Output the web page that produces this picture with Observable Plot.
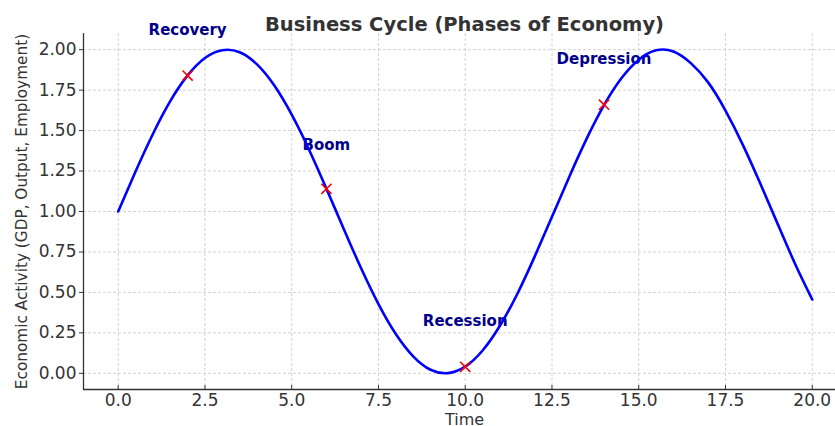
<!DOCTYPE html>
<html>
<head>
<meta charset="utf-8">
<script src="https://cdn.jsdelivr.net/npm/d3@7"></script>
<script src="https://cdn.jsdelivr.net/npm/@observablehq/plot@0.6"></script>
<style>
  html, body { margin: 0; padding: 0; background: #fff; }
  #chart svg { display: block; }
</style>
</head>
<body>
<div id="chart"></div>
<script>
// Curve
const timeValues = [0, 0.5, 1, 1.5, 2, 2.5, 3, 3.5, 4, 4.5, 5, 5.5, 6, 6.5, 7, 7.5, 8, 8.5, 9, 9.5, 10, 10.5, 11, 11.5, 12, 12.5, 13, 13.5, 14, 14.5, 15, 15.5, 16, 16.5, 17, 17.5, 18, 18.5, 19, 19.5, 20];
const activityValues = [1.000, 1.247, 1.479, 1.682, 1.841, 1.949, 1.997, 1.984, 1.909, 1.778, 1.598, 1.382, 1.141, 0.892, 0.649, 0.428, 0.243, 0.105, 0.022, 0.001, 0.041, 0.141, 0.294, 0.490, 0.721, 0.967, 1.215, 1.450, 1.657, 1.823, 1.938, 1.996, 1.989, 1.917, 1.798, 1.624, 1.412, 1.174, 0.925, 0.679, 0.456];

// Phase markers and annotations
const phaseNames = ["Recovery", "Boom", "Recession", "Depression"];
const phaseTimes = [2, 6, 10, 14];
const phaseValues = [1.84, 1.14, 0.04, 1.66];
const labelValues = [2.12, 1.41, 0.32, 1.94];

// Ticks
const xTicks = [0, 2.5, 5, 7.5, 10, 12.5, 15, 17.5, 20];
const yTicks = [0, 0.25, 0.5, 0.75, 1, 1.25, 1.5, 1.75, 2];

const titleText = "Business Cycle (Phases of Economy)";
const xLabel = "Time";
const yLabel = "Economic Activity (GDP, Output, Employment)";

const curve = timeValues.map((t, i) => ({t, v: activityValues[i]}));
const phases = phaseNames.map((name, i) => ({name, t: phaseTimes[i], v: phaseValues[i], lv: labelValues[i]}));

const xDomain = [-1, 20.67];
const yDomain = [-0.1, 2.1];

const font = "DejaVu Sans, sans-serif";
const axisColor = "#333";

const chart = Plot.plot({
  width: 835,
  height: 426,
  marginLeft: 83,
  marginRight: 0,
  marginTop: 33,
  marginBottom: 37,
  style: {fontFamily: font, background: "#fff"},
  x: {domain: xDomain},
  y: {domain: yDomain},
  marks: [
    Plot.gridX(xTicks, {stroke: "#c8c8c8", strokeOpacity: 1, strokeDasharray: "3,2", strokeWidth: 0.8}),
    Plot.gridY(yTicks, {stroke: "#c8c8c8", strokeOpacity: 1, strokeDasharray: "3,2", strokeWidth: 0.8}),
    Plot.axisX(xTicks, {tickSize: -4, tickPadding: 8, tickFormat: d3.format(".1f"), fontSize: 17, fill: axisColor, stroke: axisColor, label: null}),
    Plot.axisY(yTicks, {tickSize: 4, tickPadding: 3, tickFormat: d3.format(".2f"), fontSize: 17, fill: axisColor, stroke: axisColor, label: null}),
    Plot.ruleX([xDomain[0]], {stroke: axisColor, strokeWidth: 1.3}),
    Plot.ruleY([yDomain[0]], {stroke: axisColor, strokeWidth: 1.3}),
    Plot.text(phases, {x: "t", y: "lv", text: "name", fill: "#00008B", fontWeight: "bold", fontSize: 15}),
    Plot.line(curve, {x: "t", y: "v", stroke: "#0000FF", strokeWidth: 2.6, curve: "natural"}),
    Plot.dot(phases, {x: "t", y: "v", symbol: "times", r: 4.7, stroke: "#FF0000", strokeWidth: 1.6}),
    Plot.text([titleText], {frameAnchor: "top", dy: -16, dx: 5, text: d => d, fontWeight: "bold", fontSize: 19.5, fill: axisColor}),
    Plot.text([xLabel], {frameAnchor: "bottom", dy: 35, dx: 5, text: d => d, fontSize: 16, fill: axisColor}),
    Plot.text([yLabel], {frameAnchor: "left", dx: -61, rotate: -90, textAnchor: "middle", text: d => d, fontSize: 15.3, fill: axisColor})
  ]
});

document.getElementById("chart").appendChild(chart);
</script>
</body>
</html>
